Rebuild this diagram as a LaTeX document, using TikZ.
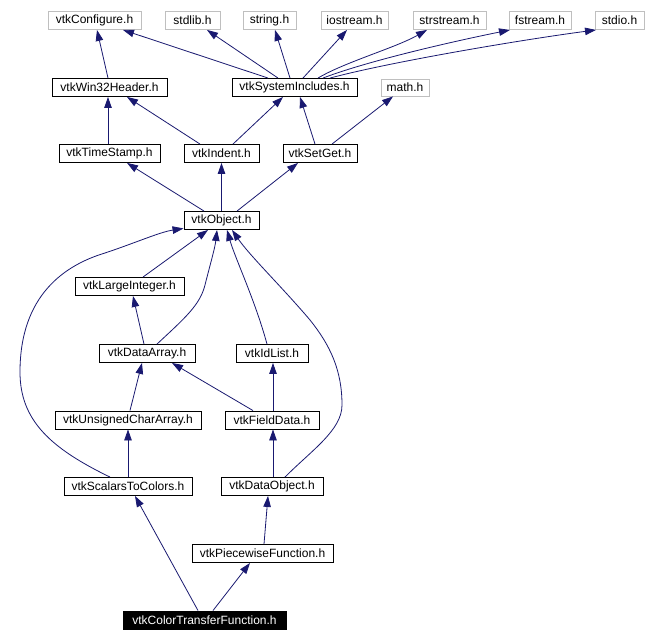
\documentclass[tikz,border=0pt]{standalone}
\usepackage{fontspec}
\setmainfont{Liberation Sans}
\usetikzlibrary{arrows.meta}
\definecolor{edgeblue}{HTML}{191970}
\definecolor{extgray}{HTML}{BFBFBF}
\begin{document}
\begin{tikzpicture}[x=1pt,y=-1pt,
  box/.style={draw=black,line width=0.9pt,fill=white,inner sep=0pt,minimum height=18pt,
    font=\fontsize{12pt}{14pt}\selectfont},
  extbox/.style={box,draw=extgray},
  mainbox/.style={box,fill=black,text=white},
  edge/.style={draw=edgeblue,line width=0.8pt,-{Triangle[length=11pt,width=7.5pt]}}]
\fill[white] (0,0) rectangle (645,642);
\useasboundingbox (0,0) rectangle (645,642);
% row 1
\node[extbox,minimum width=93pt] (conf) at (94.5,20.5) {vtkConfigure.h};
\node[extbox,minimum width=55pt] (stdlib) at (192.5,20.5) {stdlib.h};
\node[extbox,minimum width=53pt] (string) at (269.5,20.5) {string.h};
\node[extbox,minimum width=67pt] (iostream) at (354.5,20.5) {iostream.h};
\node[extbox,minimum width=73pt] (strstream) at (449.5,20.5) {strstream.h};
\node[extbox,minimum width=62pt] (fstream) at (540,20.5) {fstream.h};
\node[extbox,minimum width=49pt] (stdio) at (619.5,20.5) {stdio.h};
% row 2
\node[box,minimum width=115pt] (win32) at (109.5,87.5) {vtkWin32Header.h};
\node[box,minimum width=125pt] (sysinc) at (294.5,87.5) {vtkSystemIncludes.h};
\node[extbox,minimum width=48pt,minimum height=17pt] (math) at (405,87.5) {math.h};
% row 3
\node[box,minimum width=101pt] (tstamp) at (109.5,153.5) {vtkTimeStamp.h};
\node[box,minimum width=75pt] (indent) at (221.5,153.5) {vtkIndent.h};
\node[box,minimum width=74pt] (setget) at (320,153.5) {vtkSetGet.h};
% row 4
\node[box,minimum width=75pt] (object) at (221.5,220.5) {vtkObject.h};
% row 5
\node[box,minimum width=109pt] (largeint) at (129.5,286.5) {vtkLargeInteger.h};
% row 6
\node[box,minimum width=96pt] (darray) at (147,353.5) {vtkDataArray.h};
\node[box,minimum width=72pt] (idlist) at (272,353.5) {vtkIdList.h};
% row 7
\node[box,minimum width=146pt] (ucarray) at (128,420) {vtkUnsignedCharArray.h};
\node[box,minimum width=94pt] (fdata) at (272,420) {vtkFieldData.h};
% row 8
\node[box,minimum width=128pt] (s2c) at (128,486.5) {vtkScalarsToColors.h};
\node[box,minimum width=102pt] (dobj) at (272,486.5) {vtkDataObject.h};
% row 9
\node[box,minimum width=141pt] (pwf) at (262.5,553.5) {vtkPiecewiseFunction.h};
% row 10
\node[mainbox,minimum width=163pt] (ctf) at (204.5,620) {vtkColorTransferFunction.h};

% edges row 2 -> row 1
\draw[edge] ([xshift=-1.5pt]win32.north) -- ([xshift=2.5pt]conf.south);
\draw[edge] ([xshift=-26.5pt]sysinc.north) -- ([xshift=28.5pt]conf.south);
\draw[edge] ([xshift=-16.5pt]sysinc.north) -- ([xshift=14.5pt]stdlib.south);
\draw[edge] ([xshift=-4.5pt]sysinc.north) -- ([xshift=5.5pt]string.south);
\draw[edge] ([xshift=8.5pt]sysinc.north) -- ([xshift=-7.5pt]iostream.south);
\draw[edge] ([xshift=23.5pt]sysinc.north) .. controls (345,62) and (395,48) .. ([xshift=-22.5pt]strstream.south);
\draw[edge] ([xshift=28.5pt]sysinc.north) .. controls (370,60) and (460,40) .. ([xshift=-30pt]fstream.south);
\draw[edge] ([xshift=35.5pt]sysinc.north) .. controls (390,62) and (520,40) .. ([xshift=-23.5pt]stdio.south);
% row 3 -> row 2
\draw[edge] ([xshift=-1.5pt]tstamp.north) -- ([xshift=-1.5pt]win32.south);
\draw[edge] ([xshift=-21.5pt]indent.north) -- ([xshift=17.5pt]win32.south);
\draw[edge] ([xshift=11.5pt]indent.north) -- ([xshift=-11.5pt]sysinc.south);
\draw[edge] ([xshift=-5pt]setget.north) -- ([xshift=5.5pt]sysinc.south);
\draw[edge] ([xshift=12pt]setget.north) -- ([xshift=-12pt]math.south);
% row 4 -> row 3
\draw[edge] ([xshift=-17.5pt]object.north) -- ([xshift=17.5pt]tstamp.south);
\draw[edge] (object.north) -- (indent.south);
\draw[edge] ([xshift=15.5pt]object.north) -- ([xshift=-22pt]setget.south);
% lower rows
\draw[edge] ([xshift=13.5pt]largeint.north) -- ([xshift=-13.5pt]object.south);
\draw[edge] ([xshift=10pt]darray.north) .. controls (185,318) and (200,305) .. (205,285)
   .. controls (210,265) and (215,248) .. ([xshift=-4.5pt]object.south);
\draw[edge] ([xshift=-3pt]darray.north) -- ([xshift=3.5pt]largeint.south);
\draw[edge] ([xshift=-5pt]idlist.north) .. controls (255,300) and (235,258) .. ([xshift=5.5pt]object.south);
\draw[edge] ([xshift=2pt]ucarray.north) -- ([xshift=-5pt]darray.south);
\draw[edge] ([xshift=-19pt]fdata.north) -- ([xshift=25pt]darray.south);
\draw[edge] ([xshift=1pt]fdata.north) -- ([xshift=1pt]idlist.south);
\draw[edge] ([xshift=-18pt]s2c.north) .. controls (50,448) and (20,420) .. (20,372)
   .. controls (20,295) and (65,265) .. (105,253) .. controls (135,243) and (160,232) .. ([yshift=1.5pt]object.south west);
\draw[edge] (s2c.north) -- (ucarray.south);
\draw[edge] ([xshift=13pt]dobj.north) .. controls (312,450) and (342,430) .. (342,405)
   .. controls (342,370) and (330,345) .. (310,320) .. controls (282,287) and (250,256) .. ([xshift=10.5pt]object.south);
\draw[edge] ([xshift=1pt]dobj.north) -- ([xshift=1pt]fdata.south);
\draw[edge] ([xshift=1.5pt]pwf.north) -- ([xshift=-4pt]dobj.south);
\draw[edge] ([xshift=-6.5pt]ctf.north) -- ([xshift=7pt]s2c.south);
\draw[edge] ([xshift=8.5pt]ctf.north) -- ([xshift=-12.5pt]pwf.south);
\end{tikzpicture}
\end{document}
